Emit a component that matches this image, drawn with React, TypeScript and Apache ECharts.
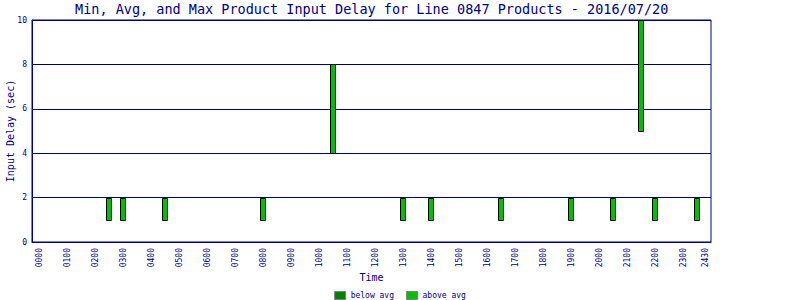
import React, { useEffect, useRef } from "react";
import * as echarts from "echarts";

// Half-hour slot (in hours since 00:00) of each product bar
const slotHours = [2.5, 3.0, 4.5, 8.0, 10.5, 13.0, 14.0, 16.5, 19.0, 20.5, 21.5, 22.0, 23.5];
const minDelay = [1, 1, 1, 1, 4, 1, 1, 1, 1, 1, 5, 1, 1];
const avgDelay = [1, 1, 1, 1, 4, 1, 1, 1, 1, 1, 5, 1, 1];
const maxDelay = [2, 2, 2, 2, 8, 2, 2, 2, 2, 2, 10, 2, 2];

const tickHours = [0, 1, 2, 3, 4, 5, 6, 7, 8, 9, 10, 11, 12, 13, 14, 15, 16, 17, 18, 19, 20, 21, 22, 23, 23.8];
const tickLabels = [
  "0000", "0100", "0200", "0300", "0400", "0500", "0600", "0700", "0800", "0900",
  "1000", "1100", "1200", "1300", "1400", "1500", "1600", "1700", "1800", "1900",
  "2000", "2100", "2200", "2300", "2430",
];

const NAVY = "#000080";
const FONT = "DejaVu Sans Mono";

export default function App() {
  const ref = useRef<HTMLDivElement>(null);
  useEffect(() => {
    if (!ref.current) return;
    const chart = echarts.init(ref.current, null, { renderer: "svg" });
    const belowData = slotHours.map((t, i) => [t, minDelay[i], avgDelay[i]]);
    const aboveData = slotHours.map((t, i) => [t, avgDelay[i], maxDelay[i]]);
    const renderItem = (params: any, api: any) => {
      const t = api.value(0);
      const lo = api.value(1);
      const hi = api.value(2);
      if (!(hi > lo)) return null;
      const pTop = api.coord([t, hi]);
      const pBot = api.coord([t, lo]);
      const x = Math.round(pTop[0]) - 2.5;
      return {
        type: "rect",
        shape: { x, y: Math.round(pTop[1]) + 0.5, width: 5, height: Math.round(pBot[1]) - Math.round(pTop[1]) },
        style: { fill: api.visual("color"), stroke: "#000000", lineWidth: 1 },
      };
    };
    chart.setOption({
      animation: false,
      backgroundColor: "#ffffff",
      title: {
        text: "Min, Avg, and Max Product Input Delay for Line 0847 Products - 2016/07/20",
        left: 75,
        top: 2,
        padding: 0,
        textStyle: { fontFamily: FONT, fontSize: 13.5, fontWeight: "normal", color: NAVY },
      },
      legend: {
        left: "center",
        top: 291,
        padding: 0,
        itemWidth: 11,
        itemHeight: 8,
        itemGap: 12,
        icon: "rect",
        textStyle: { fontFamily: FONT, fontSize: 8, color: NAVY },
        itemStyle: { borderColor: "#808080", borderWidth: 1 },
        data: ["below avg", "above avg"],
      },
      grid: {
        left: 32,
        right: 89,
        top: 20,
        bottom: 58,
        show: true,
        borderColor: NAVY,
        borderWidth: 1,
        backgroundColor: "transparent",
        containLabel: false,
        outerBoundsMode: "none",
      },
      xAxis: {
        type: "value",
        min: -0.25,
        max: 24,
        name: "Time",
        nameLocation: "middle",
        nameGap: 30,
        nameMoveOverlap: false,
        nameTextStyle: { fontFamily: FONT, fontSize: 10, color: NAVY },
        axisLine: { show: true, onZero: false, lineStyle: { color: NAVY, width: 1 } },
        axisTick: { show: false },
        splitLine: { show: false },
        axisLabel: {
          customValues: tickHours,
          rotate: 90,
          margin: 6,
          fontFamily: FONT,
          fontSize: 8,
          color: NAVY,
          formatter: (v: number) => {
            const idx = tickHours.findIndex((h) => Math.abs(h - v) < 1e-6);
            return idx >= 0 ? tickLabels[idx] : "";
          },
        },
      },
      yAxis: {
        type: "value",
        min: 0,
        max: 10,
        interval: 2,
        name: "Input Delay (sec)",
        nameLocation: "middle",
        nameGap: 17,
        nameMoveOverlap: false,
        nameTextStyle: { fontFamily: FONT, fontSize: 10, color: NAVY },
        axisLine: { show: true, onZero: false, lineStyle: { color: NAVY, width: 1 } },
        axisTick: { show: false },
        splitLine: { show: true, lineStyle: { color: "#000060", width: 1 } },
        axisLabel: { fontFamily: FONT, fontSize: 8, color: NAVY, margin: 5 },
      },
      series: [
        {
          name: "below avg",
          type: "custom",
          renderItem,
          encode: { x: 0, y: [1, 2] },
          itemStyle: { color: "#008000" },
          data: belowData,
        },
        {
          name: "above avg",
          type: "custom",
          renderItem,
          encode: { x: 0, y: [1, 2] },
          itemStyle: { color: "#00c000" },
          data: aboveData,
        },
      ],
    });
    return () => chart.dispose();
  }, []);
  return (
    <div
      ref={ref}
      style={{ position: "fixed", left: 0, top: 0, width: 800, height: 300, background: "#fff" }}
    />
  );
}
